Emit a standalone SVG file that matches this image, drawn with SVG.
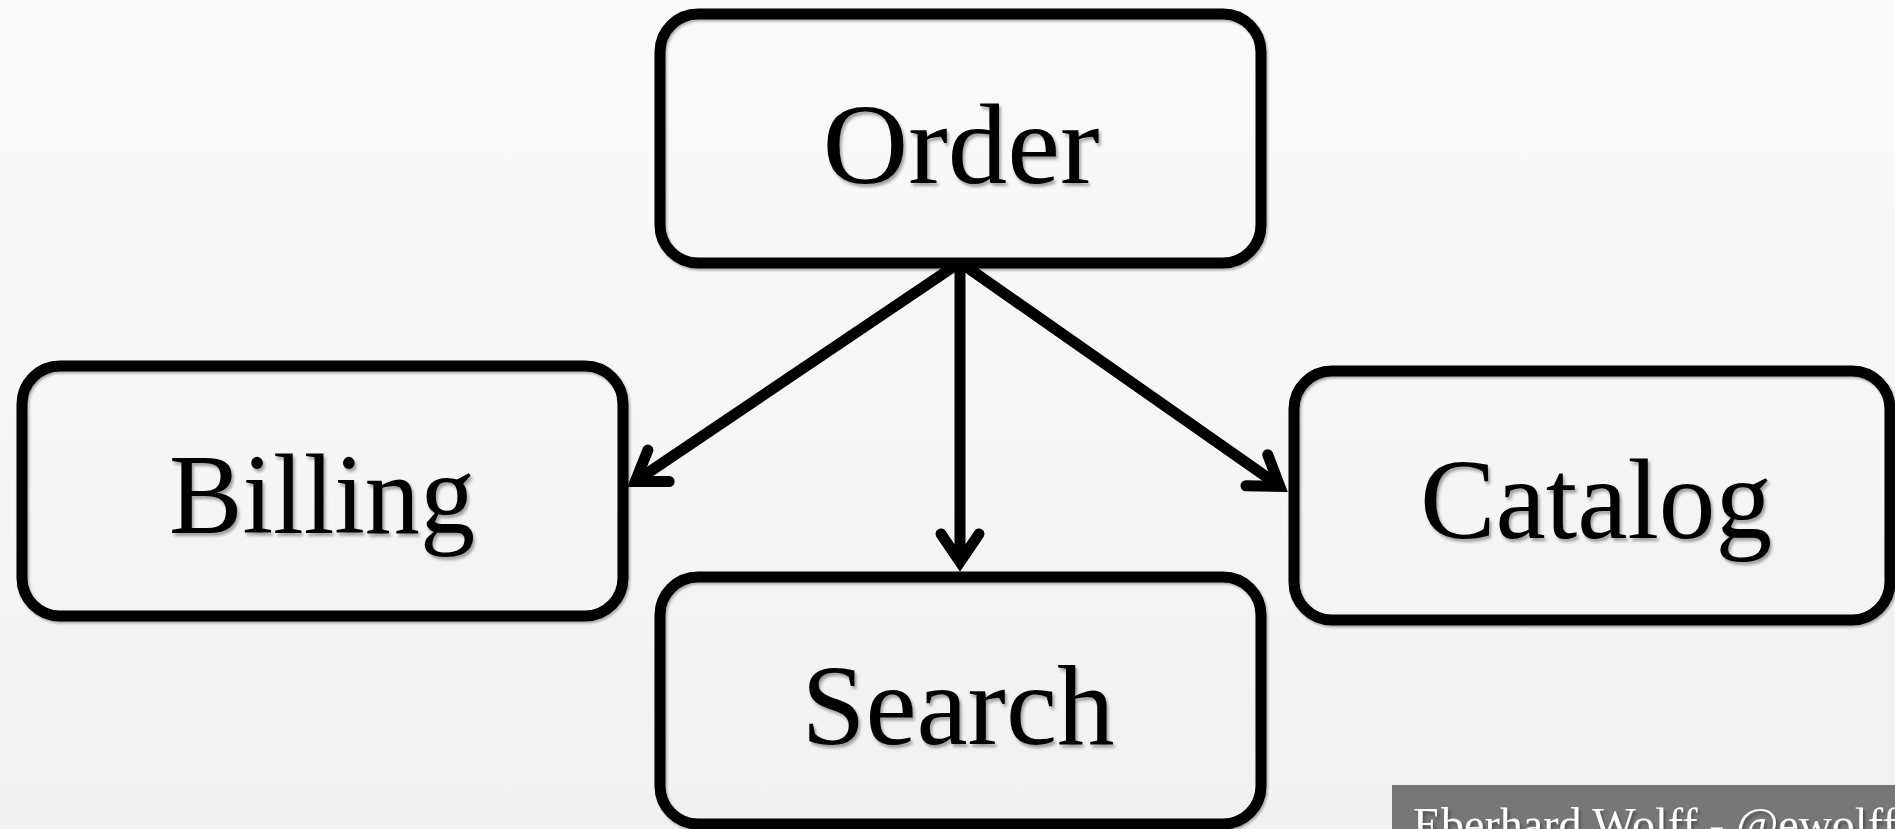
<svg xmlns="http://www.w3.org/2000/svg" width="1895" height="829" viewBox="0 0 1895 829">
  <defs>
    <linearGradient id="bg" x1="0" y1="0" x2="0" y2="1">
      <stop offset="0" stop-color="#fafafa"/>
      <stop offset="1" stop-color="#f1f1f1"/>
    </linearGradient>
    <filter id="tshadow" x="-10%" y="-10%" width="120%" height="130%">
      <feDropShadow dx="2" dy="3" stdDeviation="1.5" flood-color="#000" flood-opacity="0.35"/>
    </filter>
    <filter id="bshadow" x="-5%" y="-5%" width="110%" height="110%">
      <feDropShadow dx="1.5" dy="2" stdDeviation="1" flood-color="#000" flood-opacity="0.3"/>
    </filter>
    <marker id="arrow" markerUnits="userSpaceOnUse" viewBox="-40 -30 60 60" markerWidth="60" markerHeight="60" refX="0" refY="0" orient="auto" overflow="visible">
      <path d="M-28,-19 L0,0 L-28,19" fill="none" stroke="#000" stroke-width="11" stroke-linecap="round" stroke-linejoin="miter"/>
    </marker>
  </defs>
  <style>
    .box { fill: none; stroke: #000; stroke-width: 11; filter: url(#bshadow); }
    .label { font-family: "Liberation Serif", "DejaVu Serif", serif; font-size: 115px; fill: #000; text-anchor: middle; filter: url(#tshadow); }
    .conn { fill: none; stroke: #000; stroke-width: 11; stroke-linecap: butt; marker-end: url(#arrow); }
    .footer-text { font-family: "Liberation Serif", "DejaVu Serif", serif; font-size: 46px; fill: #ffffff; filter: url(#tshadow); }
  </style>

  <rect x="0" y="0" width="1895" height="829" fill="url(#bg)"/>

  <g id="connectors">
    <path class="conn" d="M959,263 L635.3,481.4"/>
    <path class="conn" d="M961,263 L1279.8,486.3"/>
    <path class="conn" d="M960,266 L960,562"/>
  </g>

  <g id="node-order">
    <rect class="box" x="660" y="14" width="601" height="249" rx="38" ry="38"/>
    <text class="label" x="961" y="183" textLength="277" lengthAdjust="spacingAndGlyphs">Order</text>
  </g>

  <g id="node-billing">
    <rect class="box" x="22" y="366" width="601" height="250" rx="38" ry="38"/>
    <text class="label" x="322" y="533" textLength="306" lengthAdjust="spacingAndGlyphs">Billing</text>
  </g>

  <g id="node-catalog">
    <rect class="box" x="1294" y="371" width="596" height="249" rx="38" ry="38"/>
    <text class="label" x="1596" y="538" textLength="352" lengthAdjust="spacingAndGlyphs">Catalog</text>
  </g>

  <g id="node-search">
    <rect class="box" x="660" y="577" width="601" height="247" rx="38" ry="38"/>
    <text class="label" x="958" y="744" textLength="313" lengthAdjust="spacingAndGlyphs">Search</text>
  </g>

  <g id="footer">
    <rect x="1392" y="785" width="503" height="44" fill="#777777"/>
    <text class="footer-text" x="1413" y="840">Eberhard Wolff - @ewolff</text>
  </g>
</svg>
